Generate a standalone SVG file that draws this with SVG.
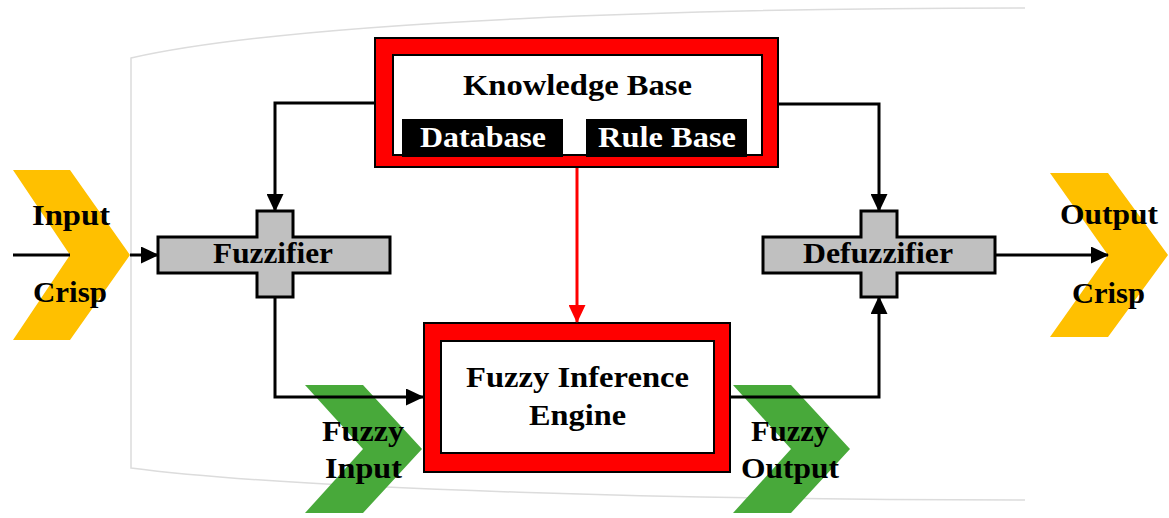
<svg xmlns="http://www.w3.org/2000/svg" width="1169" height="518" viewBox="0 0 1169 518">
<style>
.t{font-family:"Liberation Serif","Times New Roman",serif;font-weight:bold;font-size:30px;fill:#000;text-anchor:middle}
.w{fill:#fff}
.c{fill:none;stroke:#000;stroke-width:3}
.r{fill:none;stroke:#ff0000;stroke-width:3}
.cross{fill:#c0c0c0;stroke:#000;stroke-width:3}
.yel{fill:#ffc000}
.grn{fill:#48a93a}
.bg{fill:none;stroke:#dcdcdc;stroke-width:1.5}
</style>
<defs>
<marker id="ah" markerUnits="userSpaceOnUse" markerWidth="18" markerHeight="17" refX="17" refY="8.5" orient="auto">
<path d="M0,0 L18,8.5 L0,17 Z" fill="#000"/>
</marker>
<marker id="ahr" markerUnits="userSpaceOnUse" markerWidth="18" markerHeight="17" refX="17" refY="8.5" orient="auto">
<path d="M0,0 L18,8.5 L0,17 Z" fill="#ff0000"/>
</marker>
</defs>
<rect width="1169" height="518" fill="#fff"/>
<g id="background">
<path class="bg" d="M1025,8 C700,8 300,20 131,58 V468 C300,490 700,500 1025,500"/>
</g>
<g id="input-crisp">
<path class="yel" d="M13,170 H70 L130,255 L70,340 H13 L70,255 Z"/>
<text class="t" x="71" y="225" textLength="78" lengthAdjust="spacingAndGlyphs">Input</text>
<text class="t" x="70" y="302" textLength="74" lengthAdjust="spacingAndGlyphs">Crisp</text>
</g>
<g id="output-crisp">
<path class="yel" d="M1050,173 H1108 L1168,255 L1108,337 H1050 L1108,255 Z"/>
<text class="t" x="1109" y="224" textLength="98" lengthAdjust="spacingAndGlyphs">Output</text>
<text class="t" x="1108.5" y="303" textLength="73" lengthAdjust="spacingAndGlyphs">Crisp</text>
</g>
<g id="fuzzy-input">
<path class="grn" d="M305,385 H363 L422,449 L363,513 H305 L363,449 Z"/>
<text class="t" x="363" y="441" textLength="82" lengthAdjust="spacingAndGlyphs">Fuzzy</text>
<text class="t" x="363.5" y="478" textLength="77" lengthAdjust="spacingAndGlyphs">Input</text>
</g>
<g id="fuzzy-output">
<path class="grn" d="M733,385 H791 L850,449 L791,513 H733 L791,449 Z"/>
<text class="t" x="790" y="441" textLength="78" lengthAdjust="spacingAndGlyphs">Fuzzy</text>
<text class="t" x="790" y="478" textLength="98" lengthAdjust="spacingAndGlyphs">Output</text>
</g>
<g id="knowledge-base">
<rect x="375" y="38" width="403" height="129" fill="#ff0000" stroke="#000" stroke-width="2"/>
<rect x="393" y="55" width="369" height="100" fill="#fff" stroke="#000" stroke-width="2"/>
<text class="t" x="577.5" y="95" textLength="229" lengthAdjust="spacingAndGlyphs">Knowledge Base</text>
<g id="database">
<rect x="402" y="119" width="161" height="38" fill="#000"/>
<text class="t w" x="483" y="147" textLength="126" lengthAdjust="spacingAndGlyphs">Database</text>
</g>
<g id="rule-base">
<rect x="586" y="119" width="161" height="38" fill="#000"/>
<text class="t w" x="667" y="147" textLength="138" lengthAdjust="spacingAndGlyphs">Rule Base</text>
</g>
</g>
<g id="fuzzifier">
<path class="cross" d="M257,211 H293 V237 H390 V273 H293 V297 H257 V273 H158 V237 H257 Z"/>
<text class="t" x="273" y="263" textLength="120" lengthAdjust="spacingAndGlyphs">Fuzzifier</text>
</g>
<g id="defuzzifier">
<path class="cross" d="M861,211 H897 V237 H995 V273 H897 V297 H861 V273 H763 V237 H861 Z"/>
<text class="t" x="878" y="263" textLength="150" lengthAdjust="spacingAndGlyphs">Defuzzifier</text>
</g>
<g id="inference-engine">
<rect x="424" y="323" width="306" height="149" fill="#ff0000" stroke="#000" stroke-width="2"/>
<rect x="441" y="341" width="273" height="112" fill="#fff" stroke="#000" stroke-width="2"/>
<text class="t" x="577.5" y="387" textLength="223" lengthAdjust="spacingAndGlyphs">Fuzzy Inference</text>
<text class="t" x="577.5" y="425" textLength="97" lengthAdjust="spacingAndGlyphs">Engine</text>
</g>
<g id="connectors">
<path class="c" d="M13,255 H70"/>
<path class="c" d="M130,255 H158" marker-end="url(#ah)"/>
<path class="c" d="M374,103 H275 V211" marker-end="url(#ah)"/>
<path class="c" d="M779,104 H879 V211" marker-end="url(#ah)"/>
<path class="r" d="M577,168 V322" marker-end="url(#ahr)"/>
<path class="c" d="M275,297 V397 H423" marker-end="url(#ah)"/>
<path class="c" d="M730,397 H879 V297" marker-end="url(#ah)"/>
<path class="c" d="M995,255 H1108" marker-end="url(#ah)"/>
</g>
</svg>
